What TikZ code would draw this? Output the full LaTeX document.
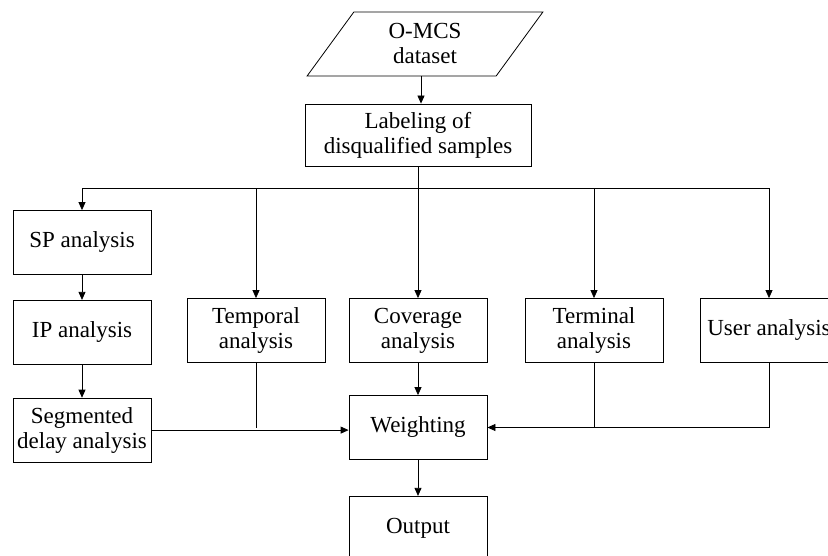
\documentclass[tikz,border=0pt]{standalone}
\usepackage{fontspec}
\setmainfont{Liberation Serif}
\usetikzlibrary{positioning}
\usetikzlibrary{shapes.geometric}
\usetikzlibrary{arrows.meta}
\tikzset{
  % A processing step of the flow chart
  stepbox/.style={
    draw=black, fill=white, rectangle, align=center, line width=0.8pt,
    font=\fontsize{23}{25}\selectfont, inner sep=2pt,
    minimum width=#1, minimum height=64pt},
  stepbox/.default=138pt,
  % The input data set
  datain/.style={
    draw=black, trapezium, trapezium left angle=61, trapezium right angle=119,
    trapezium stretches=true, align=center, line width=0.8pt,
    font=\fontsize{23}{25}\selectfont, minimum width=236pt, minimum height=64pt},
  % Connectors
  flow/.style={-{Triangle[length=8pt, width=7pt]}, draw=black, line width=0.8pt},
  link/.style={draw=black, line width=0.8pt},
}

\begin{document}
\begin{tikzpicture}[x=1pt, y=1pt]
\useasboundingbox (0,0) rectangle (828,-556);

\node[datain] (data) at (425,-44) {O-MCS\\dataset};
\node[stepbox=226pt, minimum height=62pt] (label) at (418,-135) {Labeling of\\disqualified samples};
\coordinate (fork) at (418,-188);

\node[stepbox] (sp) at (82,-242.5) {SP analysis};
\node[stepbox, below=25pt of sp] (ip) {IP analysis};
\node[stepbox, below=33pt of ip] (seg) {Segmented\\delay analysis};

\node[stepbox] (temp) at (256,-330.5) {Temporal\\analysis};
\node[stepbox] (cov) at (418,-330.5) {Coverage\\analysis};
\node[stepbox] (term) at (594,-330.5) {Terminal\\analysis};
\node[stepbox] (user) at (769,-330.5) {User analysis};

\node[stepbox] (weight) at (418,-427.5) {Weighting};
\node[stepbox, below=36pt of weight] (out) {Output};

\draw[flow] ([xshift=-4pt]data.south) -- ([xshift=-4pt]data.south |- label.north);
\draw[link] (label.south) -- (fork);
\draw[flow] (fork) -| (sp.north);
\draw[flow] (fork) -| (temp.north);
\draw[flow] (fork) -- (cov.north);
\draw[flow] (fork) -| (term.north);
\draw[flow] (fork) -| (user.north);

\draw[flow] (sp) -- (ip);
\draw[flow] (ip) -- (seg);
\draw[flow] (seg.east) -- (seg.east -| weight.west);
\draw[link] (temp.south) -- (temp.south |- weight.west);
\draw[flow] (cov) -- (weight);
\draw[flow] (user.south) |- (weight.east);
\draw[link] (term.south) -- (term.south |- weight.east);
\draw[flow] (weight) -- (out);

\end{tikzpicture}
\end{document}
